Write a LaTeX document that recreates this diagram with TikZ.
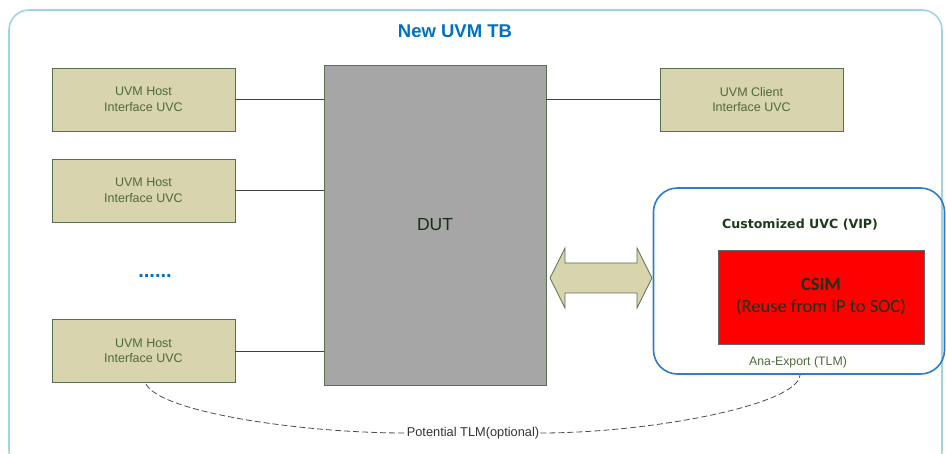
\documentclass[tikz,border=0pt]{standalone}
\usepackage{fontspec}
\setmainfont{Liberation Sans}
\newfontfamily\calfont{Carlito}
\newfontfamily\djfont{DejaVu Sans}
\definecolor{outerblue}{HTML}{9FD4E2}
\definecolor{titleblue}{HTML}{0070C0}
\definecolor{tanfill}{HTML}{D8D4AD}
\definecolor{boxedge}{HTML}{5A7050}
\definecolor{txtgreen}{HTML}{4F6A3A}
\definecolor{dkgreen}{HTML}{1E3A1E}
\definecolor{dutgray}{HTML}{A6A6A6}
\definecolor{vipblue}{HTML}{2C7DCB}
\tikzset{
  uvcbox/.style={draw=boxedge, line width=0.9pt, fill=tanfill, minimum width=183pt, minimum height=63pt,
    text=txtgreen, font=\fontsize{12.5}{15.5}\selectfont, align=center, inner sep=0pt},
  conn/.style={draw=black!75, line width=0.8pt},
  tlmline/.style={black!70, line width=0.8pt, dash pattern=on 6pt off 3pt},
}
\begin{document}
\begin{tikzpicture}[x=1pt,y=-1pt]
\useasboundingbox (0,0) rectangle (946,454);
% outer box
\draw[outerblue, line width=1.6pt, rounded corners=20pt] (9,10) rectangle (942,470);
\node[text=titleblue, font=\bfseries\fontsize{18.5}{22}\selectfont] (title) at (455,31) {New UVM TB};
% DUT
\node[draw=boxedge, line width=0.9pt, fill=dutgray, minimum width=222pt, minimum height=320pt, inner sep=0pt,
  text=dkgreen!80!black, font=\fontsize{17.5}{20}\selectfont] (dut) at (435,225) {DUT};
% host boxes
\node[uvcbox] (h1) at (143.5,99.5) {UVM Host\\Interface UVC};
\node[uvcbox] (h2) at (143.5,190.5) {UVM Host\\Interface UVC};
\node[uvcbox] (h3) at (143.5,351) {UVM Host\\Interface UVC};
\node[uvcbox] (c1) at (751.5,99.5) {UVM Client\\Interface UVC};
\node[text=titleblue, font=\bfseries\fontsize{20}{22}\selectfont] (dots) at (155,276) {......};
% connectors
\draw[conn] (h1.east) -- (h1.east -| dut.west);
\draw[conn] (h2.east) -- (h2.east -| dut.west);
\draw[conn] (h3.east) -- (h3.east -| dut.west);
\draw[conn] (c1.west -| dut.east) -- (c1.west);
% VIP box
\node[draw=vipblue, line width=1.6pt, rounded corners=24pt, minimum width=291pt, minimum height=186pt, inner sep=0pt] (vip) at (799,281) {};
\node[text=dkgreen, font=\djfont\bfseries\fontsize{12.6}{15}\selectfont] (viplbl) at (800,225) {Customized UVC (VIP)};
\node[draw=black!60, line width=0.6pt, fill=red, minimum width=206pt, minimum height=94pt, inner sep=0pt,
  text=dkgreen!85!black, font=\calfont\fontsize{18.5}{22}\selectfont, align=center] (csim) at (821,297)
  {\textbf{CSIM}\\(Reuse from IP to SOC)};
\node[text=txtgreen, font=\fontsize{12.3}{14}\selectfont] (ana) at (798,362) {Ana-Export (TLM)};
% double arrow
\draw[draw=boxedge, line width=0.7pt, fill=tanfill]
  (550,278) -- (565,248) -- (565,263) -- (637,263) -- (637,248) -- (652,278)
  -- (637,308) -- (637,293) -- (565,293) -- (565,308) -- cycle;
% dashed TLM
\node[text=black!80, font=\fontsize{12.8}{14}\selectfont, inner sep=1pt] (tlm) at (473,433) {Potential TLM(optional)};
\coordinate (ts) at (146,384);
\coordinate (te) at (800,375);
\draw[tlmline] (ts) .. controls (160,412) and (300,433) .. (tlm.west);
\draw[tlmline] (tlm.east) .. controls (650,433) and (798,405) .. (te);
\end{tikzpicture}
\end{document}
